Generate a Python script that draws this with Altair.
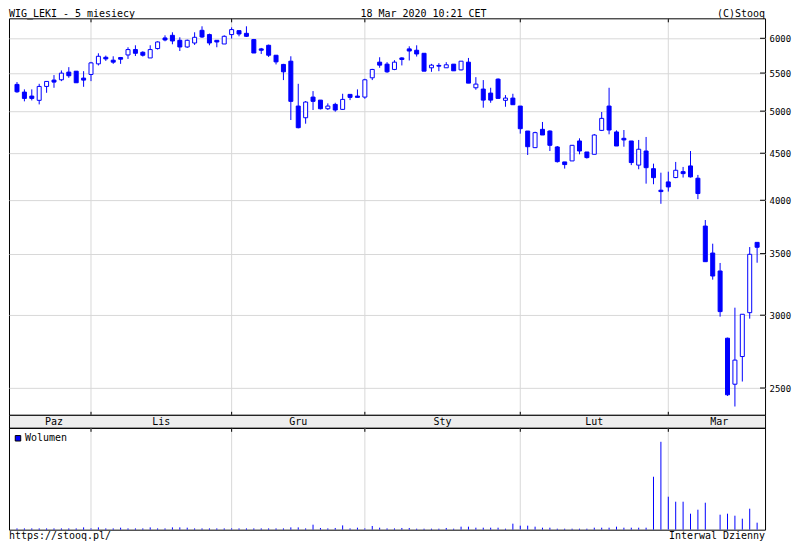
import altair as alt
import pandas as pd

# ---------------- data ----------------
dates = [
    "2019-10-18", "2019-10-21", "2019-10-22", "2019-10-23", "2019-10-24", "2019-10-25",
    "2019-10-28", "2019-10-29", "2019-10-30", "2019-10-31",
    "2019-11-04", "2019-11-05", "2019-11-06", "2019-11-07", "2019-11-08", "2019-11-12",
    "2019-11-13", "2019-11-14", "2019-11-15", "2019-11-18", "2019-11-19", "2019-11-20",
    "2019-11-21", "2019-11-22", "2019-11-25", "2019-11-26", "2019-11-27", "2019-11-28",
    "2019-11-29",
    "2019-12-02", "2019-12-03", "2019-12-04", "2019-12-05", "2019-12-06", "2019-12-09",
    "2019-12-10", "2019-12-11", "2019-12-12", "2019-12-13", "2019-12-16", "2019-12-17",
    "2019-12-18", "2019-12-19", "2019-12-20", "2019-12-23", "2019-12-27", "2019-12-30",
    "2020-01-02", "2020-01-03", "2020-01-07", "2020-01-08", "2020-01-09", "2020-01-10",
    "2020-01-13", "2020-01-14", "2020-01-15", "2020-01-16", "2020-01-17", "2020-01-20",
    "2020-01-21", "2020-01-22", "2020-01-23", "2020-01-24", "2020-01-27", "2020-01-28",
    "2020-01-29", "2020-01-30", "2020-01-31",
    "2020-02-03", "2020-02-04", "2020-02-05", "2020-02-06", "2020-02-07", "2020-02-10",
    "2020-02-11", "2020-02-12", "2020-02-13", "2020-02-14", "2020-02-17", "2020-02-18",
    "2020-02-19", "2020-02-20", "2020-02-21", "2020-02-24", "2020-02-25", "2020-02-26",
    "2020-02-27", "2020-02-28",
    "2020-03-02", "2020-03-03", "2020-03-04", "2020-03-05", "2020-03-06", "2020-03-09",
    "2020-03-10", "2020-03-11", "2020-03-12", "2020-03-13", "2020-03-16", "2020-03-17",
    "2020-03-18",
]
opens = [
    5346, 5244, 5192, 5137, 5319, 5404, 5408, 5513, 5526, 5431,
    5481, 5628, 5722, 5680, 5718, 5755, 5833, 5794, 5712, 5848,
    6005, 6045, 5970, 5871, 5930, 6121, 6056, 5970, 5915,
    6056, 6116, 6075, 5981, 5843, 5896, 5751, 5620, 5666, 5064,
    4918, 5179, 5140, 5030, 5085, 5022, 5214, 5192,
    5179, 5435, 5652, 5624, 5550, 5712, 5843, 5823, 5779, 5573,
    5606, 5573, 5624, 5544, 5652, 5301, 5284, 5231, 5417, 5137, 5166,
    5064, 4757, 4563, 4777, 4757, 4571, 4403, 4414, 4640, 4514,
    4488, 4765, 5064, 4746, 4671, 4640, 4368, 4525, 4329, 4102,
    4188, 4234, 4297, 4359, 4227, 3750, 3505, 3351, 2832, 2524,
    2705, 3019, 3600,
]
highs = [
    5377, 5280, 5280, 5354, 5390, 5472, 5536, 5582, 5526, 5526,
    5656, 5779, 5746, 5736, 5726, 5867, 5896, 5808, 5896, 5955,
    6045, 6091, 6015, 5981, 6091, 6183, 6071, 5970, 6045,
    6167, 6116, 6183, 5990, 5857, 5906, 5751, 5628, 5736, 5354,
    5128, 5257, 5140, 5098, 5106, 5222, 5214, 5280,
    5422, 5558, 5722, 5652, 5680, 5722, 5881, 5896, 5779, 5628,
    5638, 5652, 5624, 5666, 5712, 5444, 5404, 5301, 5427, 5205, 5222,
    5064, 4757, 4749, 4866, 4765, 4582, 4403, 4594, 4671, 4514,
    4722, 4989, 5301, 4765, 4769, 4640, 4652, 4687, 4384, 4286,
    4297, 4403, 4348, 4525, 4262, 3807, 3588, 3419, 2836, 3057,
    3007, 3558, 3600,
]
lows = [
    5235, 5124, 5136, 5085, 5235, 5301, 5390, 5435, 5368, 5314,
    5390, 5606, 5670, 5628, 5628, 5698, 5740, 5732, 5712, 5833,
    5955, 5911, 5812, 5857, 5901, 6005, 5896, 5867, 5915,
    5996, 6030, 6020, 5783, 5769, 5726, 5620, 5404, 4890, 4789,
    4845, 5014, 5022, 5014, 4993, 5014, 5140, 5175,
    5157, 5404, 5573, 5503, 5540, 5606, 5676, 5732, 5526, 5517,
    5526, 5573, 5531, 5536, 5363, 5275, 5043, 5106, 5162, 5055, 5081,
    4726, 4480, 4563, 4710, 4525, 4396, 4330, 4414, 4488, 4440,
    4488, 4757, 4718, 4582, 4574, 4368, 4323, 4170, 4164, 3965,
    4088, 4227, 4234, 4234, 4011, 3430, 3279, 2989, 2451, 2387,
    2541, 2974, 3421,
]
closes = [
    5248, 5162, 5162, 5319, 5386, 5377, 5499, 5463, 5368, 5404,
    5642, 5736, 5698, 5652, 5694, 5833, 5779, 5751, 5833, 5945,
    5975, 5960, 5871, 5970, 6015, 6020, 5930, 5945, 6030,
    6132, 6065, 6030, 5783, 5823, 5751, 5656, 5517, 5124, 4797,
    5115, 5124, 5030, 5064, 5014, 5149, 5175, 5175,
    5408, 5550, 5610, 5517, 5652, 5690, 5812, 5769, 5526, 5610,
    5596, 5615, 5531, 5666, 5363, 5350, 5140, 5140, 5162, 5166, 5081,
    4785, 4574, 4738, 4710, 4590, 4406, 4374, 4590, 4525, 4451,
    4710, 4910, 4769, 4582, 4652, 4396, 4545, 4340, 4233, 4088,
    4136, 4312, 4276, 4241, 4068, 3430, 3309, 3027, 2458, 2681,
    3007, 3494, 3556,
]
volumes = [
    13, 13, 13, 13, 13, 13, 13, 13, 13, 23,
    13, 23, 13, 13, 20, 13, 13, 13, 23, 13,
    13, 23, 23, 20, 13, 13, 13, 13, 13,
    13, 13, 13, 13, 13, 13, 13, 13, 23, 23,
    13, 50, 17, 13, 17, 43, 13, 20,
    13, 37, 20, 13, 13, 17, 17, 10, 10, 10,
    10, 17, 10, 30, 30, 20, 20, 20, 20, 10, 60,
    40, 40, 30, 20, 20, 10, 10, 10, 10, 10,
    20, 20, 20, 30, 20, 20, 20, 20, 530, 880,
    330, 280, 280, 160, 200, 270, 0, 150, 160, 140,
    110, 210, 70,
]
month_labels = ["Paz", "Lis", "Gru", "Sty", "Lut", "Mar"]
month_first_idx = [0, 10, 29, 47, 68, 88]
price_ticks = [2500, 3000, 3500, 4000, 4500, 5000, 5500, 6000]

TITLE = "WIG_LEKI - 5 miesiecy"
STAMP = "18 Mar 2020 10:21 CET"
COPYR = "(C)Stooq"
FOOT_L = "https://stooq.pl/"
FOOT_R = "Interwal Dzienny"
LEGEND = "Wolumen"

# ---------------- styling / layout ----------------
BLUE = "#0000ff"
GRID = "#d8d8d8"
FONT = "DejaVu Sans Mono"
FS = 10
W = 757
H_MAIN, H_BAND, H_VOL = 397, 13, 102
X_MIN, X_MAX = -1.08, 101.07
Y_MIN, Y_MAX = 2337.8, 6307.6
VOL_MAX = 1020

df = pd.DataFrame({
    "idx": list(range(len(dates))), "date": dates, "open": opens,
    "high": highs, "low": lows, "close": closes, "volume": volumes,
})
grid_df = pd.DataFrame({"m": month_first_idx[1:]})
ends = month_first_idx[1:] + [X_MAX + 0.7]
band_df = pd.DataFrame({
    "label": month_labels,
    "center": [(a + b) / 2 for a, b in zip(month_first_idx, ends)],
})
tick_df = pd.DataFrame({"v": price_ticks})

xs = alt.Scale(domain=[X_MIN, X_MAX], nice=False, zero=False, padding=0)
ys = alt.Scale(type="log", domain=[Y_MIN, Y_MAX], nice=False, padding=0)
vs = alt.Scale(domain=[0, VOL_MAX], nice=False, zero=True, padding=0)
xq = alt.X("idx:Q", scale=xs, axis=None)
xm = alt.X("m:Q", scale=xs, axis=None)

y_axis = alt.Axis(
    orient="right", values=price_ticks, grid=True, gridColor=GRID,
    gridWidth=1, ticks=False, domain=False, labelFont=FONT,
    labelFontSize=9, labelColor="black", labelPadding=4, format="d",
    title=None, labelOverlap=False, minExtent=0)


def text_layer(txt, x, y, align, baseline="alphabetic"):
    return alt.Chart(pd.DataFrame({"t": [txt]})).mark_text(
        align=align, baseline=baseline, font=FONT, fontSize=FS, color="black"
    ).encode(x=alt.value(x), y=alt.value(y), text="t:N")


# ---- main price panel ----
vgrid = alt.Chart(grid_df).mark_rule(color=GRID, strokeWidth=1).encode(x=xm)
yaxis = alt.Chart(tick_df).mark_rule(color="black", strokeWidth=1).encode(
    x=alt.value(W - 5), x2=alt.value(W),
    y=alt.Y("v:Q", scale=ys, axis=y_axis),
)
top_ticks = alt.Chart(grid_df).mark_rule(color="black").encode(
    x=xm, y=alt.value(0), y2=alt.value(4))
bot_ticks = alt.Chart(grid_df).mark_rule(color="black").encode(
    x=xm, y=alt.value(H_MAIN - 3), y2=alt.value(H_MAIN))
wicks = alt.Chart(df).mark_rule(color=BLUE, strokeWidth=1).encode(
    x=xq, y=alt.Y("low:Q", scale=ys, axis=y_axis), y2="high:Q")
bodies = alt.Chart(df).mark_bar(size=4, stroke=BLUE, strokeWidth=1).encode(
    x=xq,
    y=alt.Y("open:Q", scale=ys, axis=y_axis),
    y2="close:Q",
    fill=alt.condition(alt.datum.close < alt.datum.open,
                       alt.value(BLUE), alt.value("white")),
)
main = alt.layer(
    vgrid, yaxis, top_ticks, bot_ticks, wicks, bodies,
    text_layer(TITLE, 0, -1.5, "left"),
    text_layer(STAMP, 415, -1.5, "center"),
    text_layer(COPYR, W, -1.5, "right"),
).properties(width=W, height=H_MAIN)

# ---- month band ----
band = alt.Chart(band_df).mark_text(
    font=FONT, fontSize=FS, color="black", baseline="middle"
).encode(
    x=alt.X("center:Q", scale=xs, axis=None),
    y=alt.value(H_BAND / 2 + 0.5),
    text="label:N",
).properties(width=W, height=H_BAND,
             view=alt.ViewBackground(fill="#eeeeee", stroke="black"))

# ---- volume panel ----
vgrid_v = alt.Chart(grid_df).mark_rule(color=GRID, strokeWidth=1).encode(x=xm)
vol_ticks = alt.Chart(grid_df).mark_rule(color="black").encode(
    x=xm, y=alt.value(0), y2=alt.value(4))
vol_bars = alt.Chart(df).mark_rule(color=BLUE, strokeWidth=1).encode(
    x=xq, y=alt.Y("volume:Q", scale=vs, axis=None), y2=alt.datum(0))
legend_sq = alt.Chart(pd.DataFrame({"t": [LEGEND]})).mark_square(
    size=30, fill=BLUE, stroke="black", strokeWidth=1, opacity=1
).encode(x=alt.value(9), y=alt.value(10.5))
legend_tx = text_layer(LEGEND, 16, 10.5, "left", "middle")
vol = alt.layer(
    vgrid_v, vol_ticks, vol_bars, legend_sq, legend_tx,
    text_layer(FOOT_L, 0, H_VOL + 9.5, "left"),
    text_layer(FOOT_R, W, H_VOL + 9.5, "right"),
).properties(width=W, height=H_VOL)

chart = alt.vconcat(main, band, vol, spacing=0, bounds="flush").properties(
    padding=0, background="white"
).configure_view(stroke="black", strokeWidth=1)

chart.save("out.html", embed_options={"renderer": "svg", "actions": False})
